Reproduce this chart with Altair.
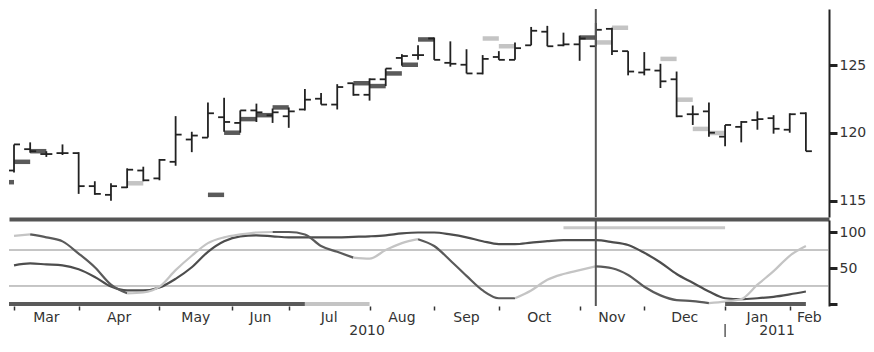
import altair as alt
import pandas as pd

# ---------------- data (weekly bars, index 0 = first week of Mar 2010) ----------------
week = list(range(50))
open_ = [117.24, 118.81, 118.45, 118.52, 118.52, 116.09, 115.45, 116.00, 117.24, 116.66,
         117.88, 119.52, 119.66, 121.16, 120.74, 121.66, 121.30, 121.23, 121.73, 122.52,
         122.09, 123.66, 122.81, 123.95, 125.52, 125.73, 126.95, 125.16, 125.02, 124.38,
         125.59, 125.38, 126.45, 127.45, 126.45, 126.52, 126.38, 127.66, 126.02, 124.45,
         124.59, 123.95, 121.38, 121.59, 119.73, 120.45, 120.95, 121.09, 120.24, 121.45]
high = [119.16, 119.31, 118.66, 119.16, 118.59, 116.45, 116.31, 117.40, 117.52, 118.09,
        121.24, 120.09, 122.24, 122.59, 121.66, 122.16, 121.80, 121.88, 123.23, 122.95,
        123.59, 123.66, 124.02, 124.74, 125.80, 126.45, 127.02, 126.74, 126.16, 125.73,
        126.02, 126.66, 127.80, 127.88, 127.38, 127.16, 128.09, 127.74, 126.02, 125.95,
        125.09, 124.52, 122.02, 122.24, 120.59, 120.88, 121.59, 121.31, 121.45, 121.52]
low = [117.10, 118.55, 118.24, 118.38, 115.52, 115.45, 115.02, 115.95, 116.45, 116.52,
       117.59, 118.59, 119.66, 120.09, 120.02, 120.81, 120.74, 120.38, 121.66, 122.09,
       121.73, 122.74, 122.38, 123.45, 124.95, 125.38, 125.38, 124.88, 124.38, 124.31,
       125.38, 125.38, 126.45, 126.38, 126.38, 125.31, 126.38, 125.74, 124.24, 124.24,
       123.31, 121.16, 120.59, 119.73, 119.02, 119.31, 120.24, 119.95, 120.02, 118.66]
close = [119.16, 118.66, 118.45, 118.52, 116.09, 115.52, 116.09, 117.30, 116.52, 118.02,
         119.88, 119.81, 121.45, 120.81, 121.66, 121.52, 121.52, 121.59, 122.45, 122.09,
         123.38, 122.81, 123.95, 124.74, 125.66, 125.73, 125.38, 125.09, 124.38, 125.45,
         125.38, 126.24, 127.52, 126.38, 126.52, 126.95, 127.59, 126.02, 124.52, 124.66,
         123.80, 121.23, 121.38, 120.02, 120.59, 120.81, 121.02, 120.31, 121.38, 118.66]

dark_mark_week = [-1, 0, 1, 12, 13, 14, 15, 16, 21, 22, 23, 24, 25, 35]
dark_mark_price = [116.38, 117.88, 118.66, 115.45, 120.02, 121.02, 121.31, 121.88,
                   123.66, 123.45, 124.38, 125.02, 126.88, 127.02]
light_mark_week = [7, 29, 30, 36, 37, 40, 41, 42, 43]
light_mark_price = [116.30, 126.95, 126.38, 126.66, 127.74, 125.45, 122.45, 120.30, 120.00]

stoch_k = [94.6, 96.6, 92.6, 87.0, 70.0, 51.0, 26.8, 14.8, 16.0, 24.0,
           47.0, 67.0, 84.6, 92.6, 96.6, 99.3, 100.0, 100.0, 96.6, 80.5,
           72.5, 64.4, 63.0, 75.0, 84.6, 90.0, 80.5, 60.4, 39.0, 18.8,
           8.0, 8.0, 18.8, 33.6, 41.6, 47.0, 52.3, 49.7, 40.3, 24.0,
           12.0, 5.4, 4.0, 1.3, 3.4, 6.7, 26.8, 45.6, 67.0, 80.5]
stoch_d = [53.7, 56.4, 55.0, 53.7, 48.3, 37.6, 24.2, 18.8, 18.8, 22.8,
           34.9, 51.0, 72.5, 87.2, 94.0, 95.3, 94.0, 92.6, 92.6, 92.6,
           92.6, 93.3, 94.0, 95.3, 98.0, 99.3, 99.3, 96.6, 92.6, 87.2,
           83.2, 83.2, 85.2, 87.2, 88.6, 88.6, 88.6, 86.0, 81.9, 71.1,
           57.7, 41.6, 29.5, 17.4, 8.0, 6.7, 8.0, 10.0, 13.4, 17.4]
# state of each %K segment (between week i and i+1)
k_state = (["light"] * 1 + ["dark"] * 6 + ["light"] * 9 + ["dark"] * 5 + ["light"] * 4
           + ["dark"] * 6 + ["light"] * 5 + ["dark"] * 7 + ["light"] * 6)

osc_grid = [25, 75]
signal_top = [{"w0": 34, "w1": 44, "v": 106}]
signal_bottom_w0 = [-1, 18, 44]
signal_bottom_w1 = [18, 22, 49]
signal_bottom_state = ["dark", "light", "dark"]

months = ["Mar", "Apr", "May", "Jun", "Jul", "Aug", "Sep", "Oct", "Nov", "Dec", "Jan", "Feb"]
month_start = [0, 4, 9, 13.5, 17, 22, 26, 30, 35, 39, 44, 48]
years = ["2010", "2011"]
year_start_week = 44
cursor_week = 36
price_ticks = [115, 120, 125]
osc_ticks = [0, 50, 100]

X_MIN, X_MAX = -0.31, 50.43
W = 820
H_TOP = 208
H_BOT = 86

BAR = "#222222"
DARK = "#4d4d4d"
LIGHT = "#c2c2c2"
FONT = "DejaVu Sans"

# ---------------- frames ----------------
ohlc = pd.DataFrame({"w": week, "o": open_, "h": high, "l": low, "c": close})
marks = pd.DataFrame({
    "w0": dark_mark_week + light_mark_week,
    "p": dark_mark_price + light_mark_price,
    "state": ["dark"] * len(dark_mark_week) + ["light"] * len(light_mark_week),
})

rows = []
run = 0
start = 0
for i in range(1, len(k_state) + 1):
    if i == len(k_state) or k_state[i] != k_state[start]:
        for j in range(start, i + 1):
            rows.append({"w": j, "v": stoch_k[j], "run": run, "state": k_state[start]})
        run += 1
        start = i
k_df = pd.DataFrame(rows)
d_df = pd.DataFrame({"w": week, "v": stoch_d})

mids = [(month_start[i] + (month_start[i + 1] if i + 1 < len(month_start) else X_MAX)) / 2
        for i in range(len(months))]
month_df = pd.DataFrame({"m": months, "mid": mids})
year_df = pd.DataFrame({"y": years,
                        "mid": [(X_MIN + year_start_week) / 2, (year_start_week + X_MAX) / 2]})
bottom_sig = pd.DataFrame({"w0": signal_bottom_w0, "w1": signal_bottom_w1,
                           "state": signal_bottom_state, "v": [0, 0, 0]})

xscale = alt.Scale(domain=[X_MIN, X_MAX], nice=False, zero=False)
state_color = alt.Color("state:N", scale=alt.Scale(domain=["dark", "light"], range=["#5a5a5a", "#c4c4c4"]),
                        legend=None)

# ---------------- top panel ----------------
top_xaxis = alt.Axis(ticks=False, labels=False, grid=False, domain=True, domainWidth=4,
                     domainColor="#555555", offset=2, title=None)
yp_scale = alt.Scale(domain=[113.82, 129.12], nice=False, zero=False)
yp_axis = alt.Axis(orient="right", values=price_ticks, grid=False, tickSize=8, tickWidth=3,
                   tickColor=BAR, domainColor=BAR, domainWidth=2, labelFontSize=14,
                   labelFont=FONT, labelColor="#333333", labelPadding=2, title=None)


def xt(field):
    return alt.X(field, type="quantitative", scale=xscale, axis=top_xaxis, title=None)


def yt(field):
    return alt.Y(field, type="quantitative", scale=yp_scale, axis=yp_axis, title=None)


tb = alt.Chart(ohlc)
marker_layer = alt.Chart(marks).transform_calculate(w1="datum.w0 + 1").mark_rule(
    strokeWidth=4.5, strokeCap="butt", clip=True).encode(
    x=xt("w0"), x2="w1:Q", y=yt("p"), color=state_color)
hl = tb.mark_rule(color=BAR, strokeWidth=1.8).encode(x=xt("w"), y=yt("l"), y2="h:Q")
op = tb.mark_tick(orient="horizontal", size=6, thickness=1.8, xOffset=-3, color=BAR,
                  clip=True, opacity=1).encode(x=xt("w"), y=yt("o"))
cl = tb.mark_tick(orient="horizontal", size=6, thickness=1.8, xOffset=3, color=BAR,
                  opacity=1).encode(x=xt("w"), y=yt("c"))
cur_top = alt.Chart(pd.DataFrame({"w": [cursor_week]})).mark_rule(
    color="#555555", strokeWidth=2).encode(x=xt("w"))

top = alt.layer(marker_layer, hl, op, cl, cur_top).properties(width=W, height=H_TOP)

# ---------------- lower panel ----------------
bot_xaxis = alt.Axis(values=month_start, labels=False, grid=False, domain=False, tickSize=4,
                     tickWidth=1.5, tickColor="#333333", title=None)
yo_scale = alt.Scale(domain=[-2.78, 116.67], nice=False, zero=False)
yo_axis = alt.Axis(orient="right", values=osc_ticks, grid=False, tickSize=8, tickWidth=3,
                   tickColor=BAR, domainColor=BAR, domainWidth=2, labelFontSize=14,
                   labelFont=FONT, labelColor="#333333", labelPadding=2, title=None,
                   labelExpr="datum.value == 0 ? '' : datum.label")


def xb(field):
    return alt.X(field, type="quantitative", scale=xscale, axis=bot_xaxis, title=None)


def yb(field):
    return alt.Y(field, type="quantitative", scale=yo_scale, axis=yo_axis, title=None)


grid = alt.Chart(pd.DataFrame({"v": osc_grid})).mark_rule(color="#8c8c8c", strokeWidth=1).encode(
    y=yb("v"))
d_line = alt.Chart(d_df).mark_line(color=DARK, strokeWidth=2.2, interpolate="monotone").encode(
    x=xb("w"), y=yb("v"))
k_line = alt.Chart(k_df).mark_line(strokeWidth=2.2, interpolate="monotone").encode(
    x=xb("w"), y=yb("v"), detail="run:N", order="w:Q", color=state_color)
sig_top = alt.Chart(pd.DataFrame(signal_top)).mark_rule(color="#c8c8c8", strokeWidth=3).encode(
    x=xb("w0"), x2="w1:Q", y=yb("v"))
sig_bot = alt.Chart(bottom_sig).mark_rule(strokeWidth=4, strokeCap="butt", clip=True).encode(
    x=xb("w0"), x2="w1:Q", y=yb("v"),
    color=alt.Color("state:N", scale=alt.Scale(domain=["dark", "light"], range=["#4a4a4a", "#a8a8a8"]),
                    legend=None))
cur_bot = alt.Chart(pd.DataFrame({"w": [cursor_week]})).mark_rule(
    color="#555555", strokeWidth=2).encode(x=xb("w"))
month_txt = alt.Chart(month_df).mark_text(font=FONT, fontSize=14, color="#333333",
                                          align="center", baseline="middle").encode(
    x=xb("mid"), y=alt.value(H_BOT + 12), text="m:N")
year_txt = alt.Chart(year_df).mark_text(font=FONT, fontSize=14, color="#333333",
                                        align="center", baseline="middle").encode(
    x=xb("mid"), y=alt.value(H_BOT + 25), text="y:N")
year_sep = alt.Chart(pd.DataFrame({"w": [year_start_week]})).mark_rule(
    color="#333333", strokeWidth=1.2).encode(x=xb("w"), y=alt.value(H_BOT + 18),
                                             y2=alt.value(H_BOT + 31))

bottom = alt.layer(grid, d_line, k_line, sig_top, sig_bot, cur_bot, month_txt, year_txt,
                   year_sep).properties(width=W, height=H_BOT)

chart = alt.vconcat(top, bottom, spacing=0).properties(
    padding=0, background="white"
).configure_view(stroke=None)

chart.save("out.html", embed_options={"renderer": "svg", "actions": False})
